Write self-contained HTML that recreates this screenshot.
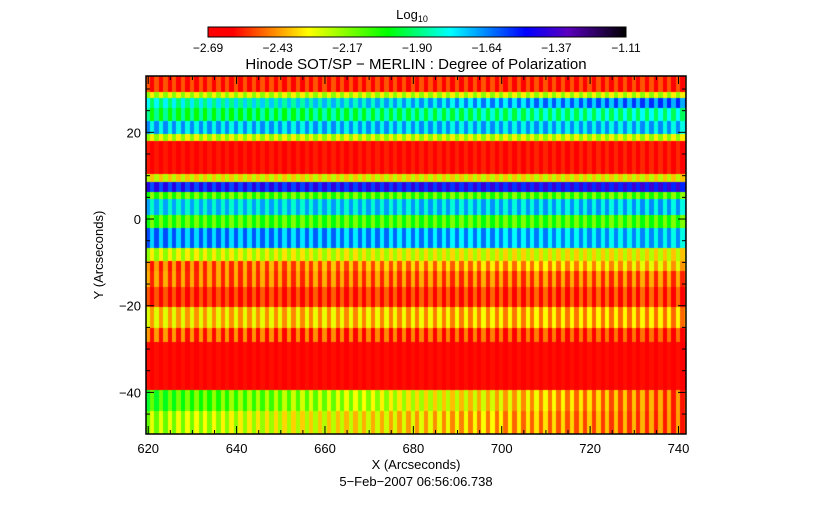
<!DOCTYPE html>
<html><head><meta charset="utf-8">
<style>
html,body{margin:0;padding:0;background:#fff;}
#wrap{position:relative;width:832px;height:512px;overflow:hidden;font-family:"Liberation Sans",sans-serif;}
#heat{position:absolute;left:146px;top:76px;}
svg{position:absolute;left:0;top:0;}
text{font-family:"Liberation Sans",sans-serif;fill:#000;}
</style></head>
<body>
<div id="wrap">
<canvas id="heat" width="540" height="358"></canvas>
<svg id="ov" width="832" height="512"></svg>
</div>
<script>
// Band top edges in Y arcsec, with log10 values at the left (X=620) and right (X=742) edges
const bandTops  = [33, 29.3, 27.7, 25.4, 22.4, 19.4, 17.8, 10.2, 8.5, 6.2, 4.6, 0.9, -2.3, -6.9, -9.9, -12.2, -15.7, -20.3, -25.2, -28.4, -39.5, -44.3];
const bandLeft  = [-2.58,-2.25,-1.85,-1.95,-1.72,-2.25,-2.65,-2.3,-1.5,-2.1,-1.75,-2.08,-1.65,-2.25,-2.5,-2.48,-2.58,-2.35,-2.5,-2.66,-2.05,-2.2];
const bandRight = [-2.58,-2.25,-1.6,-1.85,-1.72,-2.25,-2.63,-2.3,-1.45,-2.1,-1.72,-2.08,-1.72,-2.3,-2.35,-2.48,-2.55,-2.4,-2.55,-2.66,-2.5,-2.5];
const stripe = [0.08, -0.08];
const xTicks = [620, 640, 660, 680, 700, 720, 740];
const yTicks = [20, 0, -20, -40];
const cbLabels = ["-2.69","-2.43","-2.17","-1.90","-1.64","-1.37","-1.11"];
const vMin = -2.69, vMax = -1.11;
const xMin = 619.5, xMax = 741.7, yMaxA = 33.0, yMinA = -49.6;

const L = 146, T = 76, W = 540, H = 358;
const sx = v => L + (v - xMin) / (xMax - xMin) * W;
const sy = v => T + (yMaxA - v) / (yMaxA - yMinA) * H;

const stops = [[0,[255,0,0]],[0.06,[255,0,0]],[0.24,[255,255,0]],[0.43,[0,255,0]],[0.58,[0,255,255]],[0.76,[0,0,255]],[0.86,[90,0,190]],[1,[0,0,0]]];
function cmap(v){
  let f = Math.max(0, Math.min(1, (v - vMin) / (vMax - vMin)));
  for (let i = 1; i < stops.length; i++) {
    if (f <= stops[i][0]) {
      const a = stops[i-1], b = stops[i], t = (f - a[0]) / (b[0] - a[0] || 1);
      const c = a[1].map((x, k) => Math.round(x + (b[1][k] - x) * t));
      return `rgb(${c[0]},${c[1]},${c[2]})`;
    }
  }
  return 'rgb(0,0,0)';
}

const ctx = document.getElementById('heat').getContext('2d');
for (let b = 0; b < bandTops.length; b++) {
  const yTop = bandTops[b], yBot = b + 1 < bandTops.length ? bandTops[b+1] : yMinA;
  const py0 = sy(yTop) - T, py1 = sy(yBot) - T;
  for (let c = 0; c < Math.ceil(xMax - xMin); c++) {
    const xv = xMin + c, t = c / (xMax - xMin);
    const v = bandLeft[b] * (1 - t) + bandRight[b] * t + stripe[c % stripe.length];
    ctx.fillStyle = cmap(v);
    const px0 = sx(xv) - L, px1 = sx(xv + 1) - L;
    ctx.fillRect(Math.floor(px0), Math.floor(py0), Math.ceil(px1 - px0) + 1, Math.ceil(py1 - py0) + 1);
  }
}

const NS = 'http://www.w3.org/2000/svg';
const svg = document.getElementById('ov');
function mk(tag, attrs, txt){ const e = document.createElementNS(NS, tag); for (const k in attrs) e.setAttribute(k, attrs[k]); if (txt !== undefined) e.textContent = txt; svg.appendChild(e); return e; }

const cbX = 208, cbW = 418, cbY = 27, cbH = 10;
const grad = mk('defs', {});
const lg = document.createElementNS(NS, 'linearGradient'); lg.setAttribute('id', 'cbg'); grad.appendChild(lg);
stops.forEach(s => { const st = document.createElementNS(NS, 'stop'); st.setAttribute('offset', s[0]); st.setAttribute('stop-color', `rgb(${s[1].join(',')})`); lg.appendChild(st); });
let cb = mk('rect', {x: cbX, y: cbY, width: cbW, height: cbH, fill: 'url(#cbg)', stroke: '#000', 'stroke-width': 1});


let lt = mk('text', {x: 412, y: 19, 'font-size': 13, 'text-anchor': 'middle'}, 'Log');


let ls = mk('tspan', {'font-size': 9, dy: 3}); ls.textContent = '10'; lt.appendChild(ls);
cbLabels.forEach((s, i) => {
  const e = mk('text', {x: cbX + i * cbW / (cbLabels.length - 1), y: 52, 'font-size': 12, 'text-anchor': 'middle'}, s.replace('-', '\u2212'));
  
  
});
let ti = mk('text', {x: 416, y: 69, 'font-size': 15, 'text-anchor': 'middle'}, 'Hinode SOT/SP \u2212 MERLIN : Degree of Polarization');



let fr = mk('rect', {x: L, y: T, width: W, height: H, fill: 'none', stroke: '#000', 'stroke-width': 1.5});



for (let v = 620; v <= 741; v += 5) {
  const major = v % 20 === 0, len = major ? 8 : 4, x = sx(v);
  mk('line', {x1: x, y1: T + H, x2: x, y2: T + H - len, stroke: '#000', 'stroke-width': 1});
  mk('line', {x1: x, y1: T, x2: x, y2: T + len, stroke: '#000', 'stroke-width': 1});
}
for (let v = -45; v <= 30; v += 5) {
  const major = v % 20 === 0, len = major ? 8 : 4, y = sy(v);
  mk('line', {x1: L, y1: y, x2: L + len, y2: y, stroke: '#000', 'stroke-width': 1});
  mk('line', {x1: L + W, y1: y, x2: L + W - len, y2: y, stroke: '#000', 'stroke-width': 1});
}
xTicks.forEach(v => {
  const e = mk('text', {x: sx(v), y: T + H + 19, 'font-size': 13, 'text-anchor': 'middle'}, String(v));
  
  
});
yTicks.forEach(v => {
  const e = mk('text', {x: L - 5, y: sy(v) + 5, 'font-size': 13, 'text-anchor': 'end'}, String(v).replace('-', '\u2212'));
  
  
});
let xl = mk('text', {x: 416, y: 469, 'font-size': 13, 'text-anchor': 'middle'}, 'X (Arcseconds)');


let dl = mk('text', {x: 416, y: 486, 'font-size': 13, 'text-anchor': 'middle'}, '5\u2212Feb\u22122007 06:56:06.738');


let yl = mk('text', {x: 0, y: 0, 'font-size': 13, 'text-anchor': 'middle', transform: 'translate(103,255) rotate(-90)'}, 'Y (Arcseconds)');


</script>
</body></html>
